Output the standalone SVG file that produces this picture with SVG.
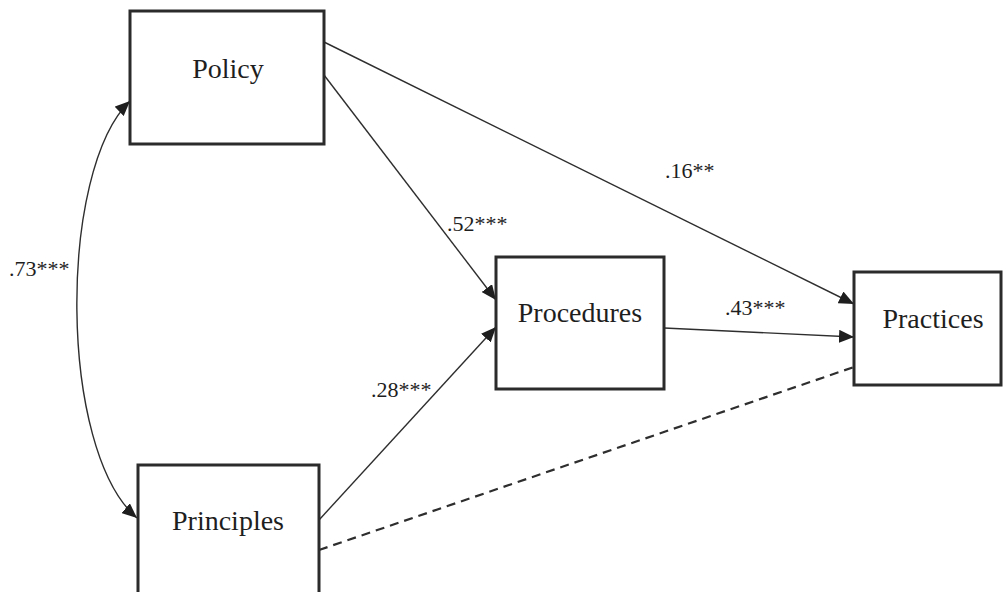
<svg xmlns="http://www.w3.org/2000/svg" width="1004" height="592" viewBox="0 0 1004 592">
  <style>
    .box { fill: #ffffff; stroke: #2b2b2b; stroke-width: 3; }
    .edge { fill: none; stroke: #2e2e2e; stroke-width: 1.4; }
    .dash { stroke-dasharray: 9 6; stroke-width: 2.2; }
  </style>
  <defs>
    <marker id="arr" viewBox="0 0 15 13" refX="15" refY="6.5" markerWidth="15" markerHeight="13" markerUnits="userSpaceOnUse" orient="auto-start-reverse">
      <path d="M0,0 L15,6.5 L0,13 z" fill="#1e1e1e"/>
    </marker>
  </defs>
  <rect width="1004" height="592" fill="#ffffff"/>
  <g id="connectors" font-family="Liberation Serif, Times New Roman, serif" font-size="22" fill="#1e1e1e">
    <path class="edge" d="M130,101 C58,170 58,450 137,518" marker-start="url(#arr)" marker-end="url(#arr)"/>
    <line class="edge" x1="324" y1="42" x2="854" y2="304" marker-end="url(#arr)"/>
    <line class="edge" x1="324" y1="75" x2="496" y2="300" marker-end="url(#arr)"/>
    <line class="edge" x1="319" y1="520" x2="496" y2="327" marker-end="url(#arr)"/>
    <line class="edge" x1="664" y1="328" x2="854" y2="337" marker-end="url(#arr)"/>
    <line class="edge dash" x1="319" y1="550" x2="854" y2="367"/>
    <text x="9" y="276">.73***</text>
    <text x="447" y="231">.52***</text>
    <text x="665" y="178">.16**</text>
    <text x="725" y="315">.43***</text>
    <text x="371" y="397">.28***</text>
  </g>
  <g id="policy" font-family="Liberation Serif, Times New Roman, serif" font-size="28" fill="#1e1e1e" text-anchor="middle">
    <rect class="box" x="130" y="11" width="194" height="133"/>
    <text x="228" y="78">Policy</text>
  </g>
  <g id="principles" font-family="Liberation Serif, Times New Roman, serif" font-size="28" fill="#1e1e1e" text-anchor="middle">
    <rect class="box" x="138" y="465" width="181" height="140"/>
    <text x="228" y="530">Principles</text>
  </g>
  <g id="procedures" font-family="Liberation Serif, Times New Roman, serif" font-size="28" fill="#1e1e1e" text-anchor="middle">
    <rect class="box" x="496" y="257" width="168" height="132"/>
    <text x="580" y="322">Procedures</text>
  </g>
  <g id="practices" font-family="Liberation Serif, Times New Roman, serif" font-size="28" fill="#1e1e1e" text-anchor="middle">
    <rect class="box" x="854" y="272" width="147" height="113"/>
    <text x="933" y="328">Practices</text>
  </g>
</svg>
